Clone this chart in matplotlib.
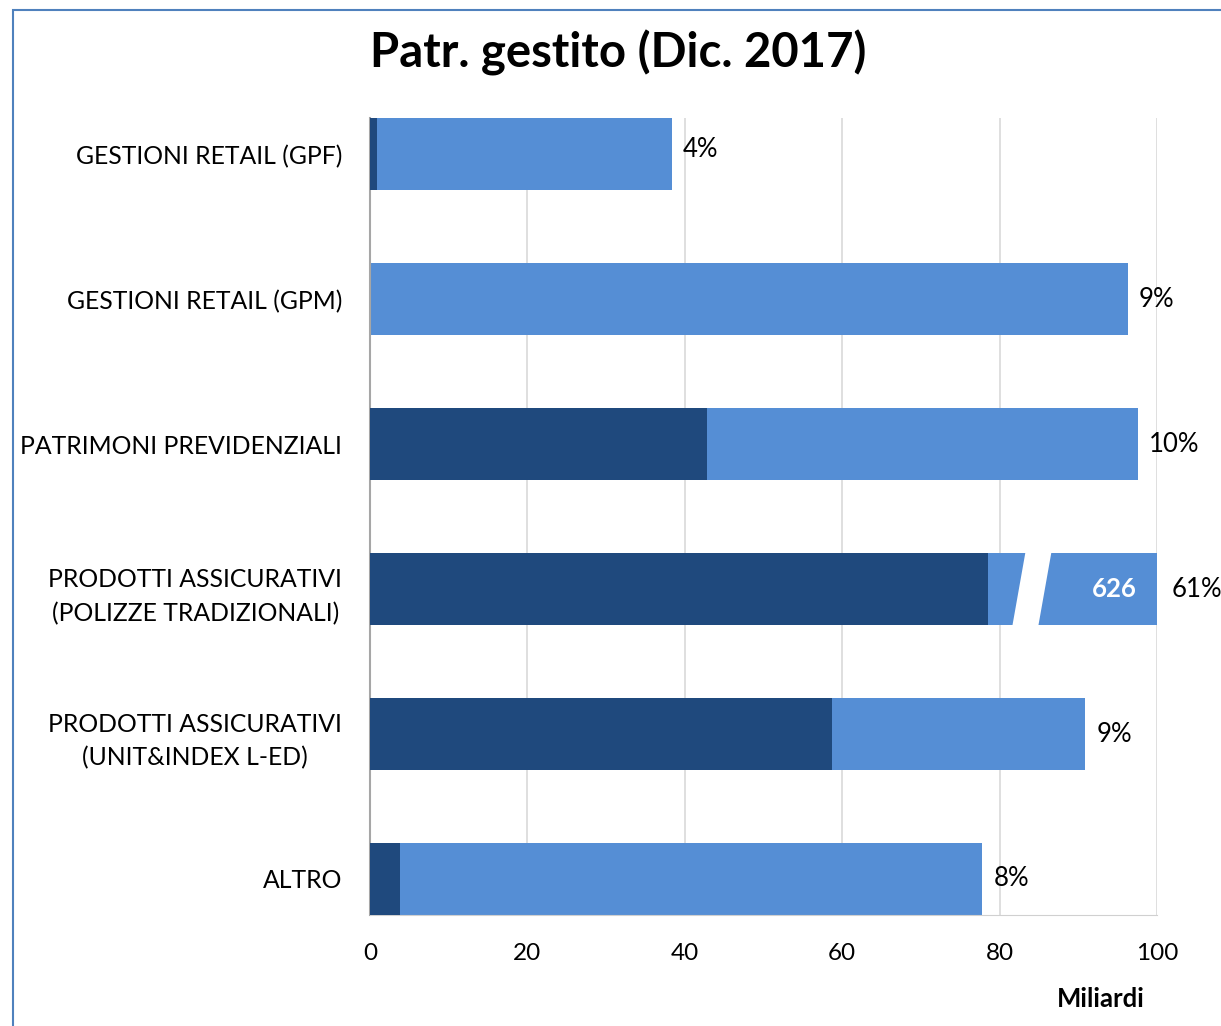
import matplotlib.pyplot as plt
from matplotlib.patches import Polygon, Rectangle

plt.rcParams['font.family'] = ['Lato', 'DejaVu Sans']

categories = ["GESTIONI RETAIL (GPF)", "GESTIONI RETAIL (GPM)", "PATRIMONI PREVIDENZIALI",
              "PRODOTTI ASSICURATIVI\n(POLIZZE TRADIZIONALI)",
              "PRODOTTI ASSICURATIVI\n(UNIT&INDEX L-ED)", "ALTRO"]
dark_vals = [0.9, 0.0, 42.8, 78.5, 58.7, 3.8]
totals = [38.4, 96.3, 97.6, 626, 90.9, 77.8]
shares = ["4%", "9%", "10%", "61%", "9%", "8%"]

dark = "#1f497d"
light = "#558ed5"
xmax = 100
brk = 83.3  # where the long bar is cut

fig = plt.figure(figsize=(12.21, 10.26), dpi=100)
ax = fig.add_axes([0.303, 0.108, 0.6446, 0.777])

ypos = list(range(len(categories)))
shown = [min(t, xmax) for t in totals]
ax.barh(ypos, shown, height=0.5, color=light, zorder=2)
ax.barh(ypos, dark_vals, height=0.5, color=dark, zorder=3)

for y, t, s in zip(ypos, totals, shares):
    if t > xmax:
        # slanted break in the bar
        h = 0.25
        gap = [(brk - 1.7, y + h + 0.01), (brk + 1.6, y + h + 0.01),
               (brk + 3.3, y - h - 0.01), (brk, y - h - 0.01)]
        ax.add_patch(Polygon(gap, closed=True, facecolor="white", edgecolor="none", zorder=4))
        ax.text(xmax - 2.6, y, f"{t:.0f}", color="white", fontsize=18.5, fontweight="bold",
                ha="right", va="center", zorder=5)
        ax.text(xmax + 1.8, y, s, fontsize=18.5, ha="left", va="center", clip_on=False)
    else:
        ax.text(t + 1.4, y - (0.03 if y == 0 else 0), s, fontsize=18.5, ha="left", va="center")

ax.set_xlim(0, xmax)
ax.set_ylim(len(categories) - 0.75, -0.25)
ax.set_xticks([0, 20, 40, 60, 80, 100])
ax.set_yticks(ypos)
ax.set_yticklabels(categories, fontsize=17.8, linespacing=1.55, multialignment="center")
ax.tick_params(axis="x", labelsize=17.5, length=0, pad=20)
ax.tick_params(axis="y", length=0, pad=20)
ax.grid(axis="x", color="#d9d9d9", linewidth=1.2, zorder=0)
for side in ["top", "right"]:
    ax.spines[side].set_visible(False)
ax.spines["left"].set_color("#a6a6a6")
ax.spines["bottom"].set_color("#d0d0d0")
ax.spines["left"].set_linewidth(1.5)

ax.text(0.929, -0.105, "Miliardi", transform=ax.transAxes, fontsize=18.5, fontweight="bold",
        ha="center", va="center")
fig.text(0.506, 0.948, "Patr. gestito (Dic. 2017)", fontsize=34, fontweight="bold",
         ha="center", va="center")

fig.patches.append(Rectangle((0.0105, -0.05), 1.1, 1.05 - 10 / 1026, transform=fig.transFigure,
                             fill=False, edgecolor="#4f81bd", linewidth=1.5))

fig.savefig("out.png", dpi=100)
